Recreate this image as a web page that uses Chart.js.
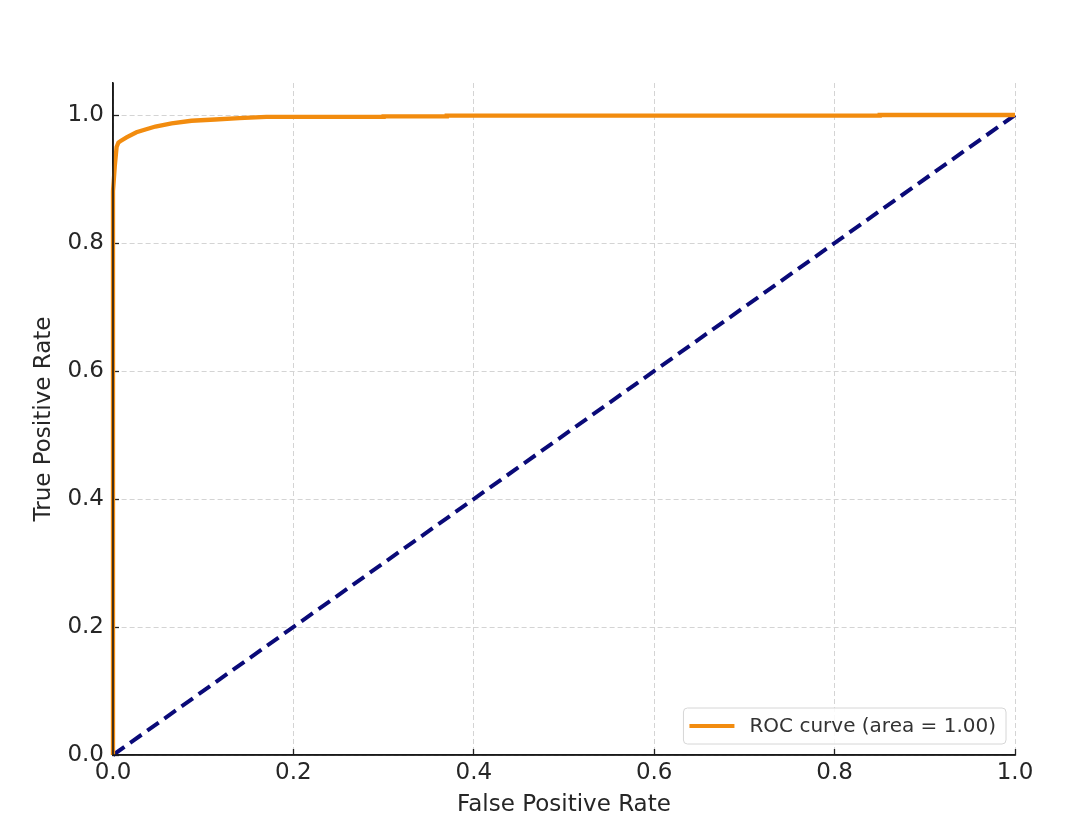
<!DOCTYPE html>
<html>
<head>
<meta charset="utf-8">
<script src="https://cdn.jsdelivr.net/npm/chart.js@4.4.1/dist/chart.umd.min.js"></script>
<style>
  html, body { margin: 0; padding: 0; background: #fff; }
  #wrap { width: 1067px; height: 825px; }
</style>
</head>
<body>
<div id="wrap"><canvas id="roc" width="1067" height="825"></canvas></div>
<script>
// ROC curve (false positive rate -> true positive rate)
const rocFpr = [0, 0, 0.002, 0.004, 0.006, 0.008, 0.015, 0.026, 0.035, 0.047, 0.065, 0.087, 0.113, 0.14, 0.17, 0.22, 0.30, 0.30, 0.37, 0.37, 0.85, 0.85, 1.0]
const rocTpr = [0, 0.881, 0.92, 0.95, 0.957, 0.959, 0.965, 0.973, 0.977, 0.982, 0.987, 0.991, 0.993, 0.995, 0.997, 0.997, 0.997, 0.998, 0.998, 0.999, 0.999, 1.0, 1.0]
// chance line
const diagX = [0, 1]
const diagY = [0, 1]
const xTicks = [0, 0.2, 0.4, 0.6, 0.8, 1.0]
const yTicks = [0, 0.2, 0.4, 0.6, 0.8, 1.0]
const rocLabel = 'ROC curve (area = 1.00)'

const FONT = "'DejaVu Sans', 'Liberation Sans', sans-serif"

const pts = (xs, ys) => xs.map((x, i) => ({x: x, y: ys[i]}))
const fixTicks = (vals) => (scale) => { scale.ticks = vals.map(v => ({value: v})) }

// matplotlib style legend in the lower right corner, spines drawn over the lines
const cornerLegend = {
  id: 'cornerLegend',
  afterDatasetsDraw(chart) {
    const ctx = chart.ctx
    const area = chart.chartArea
    const ds = chart.data.datasets[0]
    ctx.save()
    // left and bottom spines on top of the curves
    ctx.strokeStyle = '#1a1a1a'
    ctx.lineWidth = 1.6
    ctx.beginPath()
    ctx.moveTo(area.left, area.top)
    ctx.lineTo(area.left, area.bottom)
    ctx.lineTo(area.right, area.bottom)
    ctx.stroke()

    ctx.font = '20px ' + FONT
    const tw = ctx.measureText(ds.label).width
    const w = tw + 76, h = 36
    const x = area.right - 9 - w, y = area.bottom - 11 - h
    ctx.beginPath()
    ctx.roundRect(x, y, w, h, 4)
    ctx.fillStyle = 'rgba(255,255,255,0.85)'
    ctx.fill()
    ctx.strokeStyle = '#d6d6d6'
    ctx.lineWidth = 1
    ctx.stroke()
    ctx.beginPath()
    ctx.moveTo(x + 6, y + h / 2)
    ctx.lineTo(x + 51, y + h / 2)
    ctx.strokeStyle = ds.borderColor
    ctx.lineWidth = 4
    ctx.stroke()
    ctx.fillStyle = '#333'
    ctx.textBaseline = 'middle'
    ctx.fillText(ds.label, x + 66, y + h / 2 + 1)
    ctx.restore()
  }
}

new Chart(document.getElementById('roc'), {
  type: 'line',
  data: {
    datasets: [
      {
        label: rocLabel,
        data: pts(rocFpr, rocTpr),
        borderColor: '#f28c0f',
        borderWidth: 4.3,
        pointRadius: 0,
        tension: 0,
        clip: false
      },
      {
        label: 'chance',
        data: pts(diagX, diagY),
        borderColor: '#0a0a78',
        borderWidth: 4,
        borderDash: [14, 7],
        pointRadius: 0,
        clip: false
      }
    ]
  },
  options: {
    responsive: false,
    animation: false,
    layout: {padding: {top: 83, right: 52, left: 0, bottom: 0}},
    plugins: {legend: {display: false}, tooltip: {enabled: false}},
    scales: {
      x: {
        type: 'linear',
        min: 0,
        max: 1.0,
        afterBuildTicks: fixTicks(xTicks),
        afterFit: (s) => { s.height = 70 },
        ticks: {
          color: '#262626',
          font: {family: FONT, size: 23},
          padding: 10,
          maxRotation: 0,
          callback: (v) => v.toFixed(1)
        },
        grid: {color: '#d4d4d4', lineWidth: 1, tickLength: -6, tickColor: '#222', tickWidth: 1.3},
        border: {color: '#1a1a1a', width: 1.6, dash: [5, 3]},
        title: {
          display: true,
          text: 'False Positive Rate',
          color: '#262626',
          font: {family: FONT, size: 23},
          padding: {top: 0, bottom: 6}
        }
      },
      y: {
        type: 'linear',
        min: 0,
        max: 1.05,
        afterBuildTicks: fixTicks(yTicks),
        afterFit: (s) => { s.width = 113 },
        ticks: {
          color: '#262626',
          font: {family: FONT, size: 23},
          padding: 15,
          callback: (v) => v.toFixed(1)
        },
        grid: {color: '#d4d4d4', lineWidth: 1, tickLength: -6, tickColor: '#222', tickWidth: 1.3},
        border: {color: '#1a1a1a', width: 1.6, dash: [5, 3]},
        title: {
          display: true,
          text: 'True Positive Rate',
          color: '#262626',
          font: {family: FONT, size: 23},
          padding: {top: 30, bottom: 0}
        }
      }
    }
  },
  plugins: [cornerLegend]
})
</script>
</body>
</html>
